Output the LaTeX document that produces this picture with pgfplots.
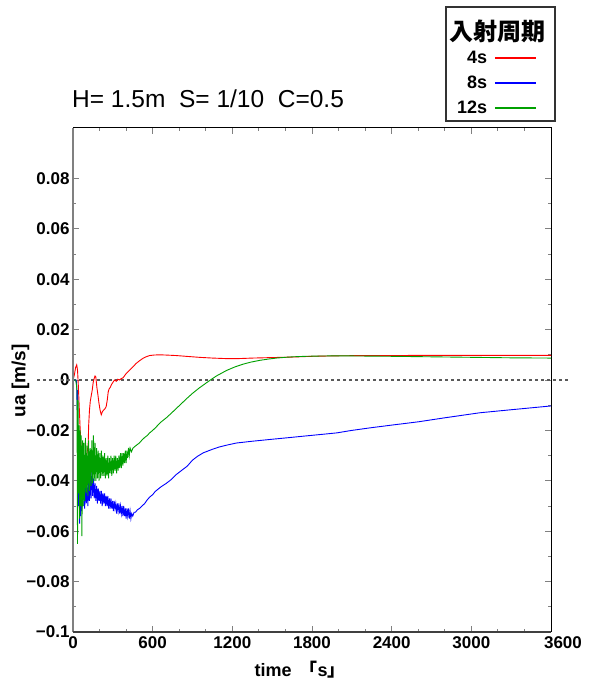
\documentclass[border=0pt]{standalone}
\usepackage{fontspec}
\setmainfont{Liberation Sans}
\newfontfamily\cjk{Noto Sans CJK JP}
\usepackage{pgfplots}
\pgfplotsset{compat=1.18}
\definecolor{cR}{RGB}{255,0,0}
\definecolor{cB}{RGB}{0,0,255}
\definecolor{cG}{RGB}{0,160,0}
\begin{document}
\begin{tikzpicture}
\useasboundingbox (0,0) rectangle (597bp,684bp);
\begin{axis}[
  at={(73bp,52bp)}, anchor=south west,
  width=478bp, height=504bp, scale only axis,
  xmin=0, xmax=3600, ymin=-0.1, ymax=0.1,
  clip=false,
  xtick={0,600,1200,1800,2400,3000,3600},
  xticklabels={0,600,1200,1800,2400,3000,\hspace*{24bp}3600},
  minor x tick num=2,
  ytick={-0.1,-0.08,-0.06,-0.04,-0.02,0,0.02,0.04,0.06,0.08},
  yticklabels={−0.1,−0.08,−0.06,−0.04,−0.02,0,0.02,0.04,0.06,0.08},
  minor y tick num=1,
  tick align=inside,
  major tick length=6bp, minor tick length=3bp,
  every tick/.style={gray, line width=0.9bp},
  axis line style={black, line width=1bp},
  ticklabel style={font=\fontsize{17bp}{20bp}\selectfont\bfseries},
  xticklabel style={yshift=-1.5bp},
  xlabel={time \,{\cjk 「}s{\cjk 」}},
  xlabel style={at={(axis description cs:0.475,-0.0885)}, anchor=base, font=\fontsize{18bp}{20bp}\selectfont\bfseries},
  ylabel={ua [m/s]},
  ylabel style={at={(axis description cs:-0.1098,0.498)}, anchor=center, rotate=0, font=\fontsize{19bp}{22bp}\selectfont\bfseries},
  title={H= 1.5m\ \ S= 1/10\ \ C=0.5},
  title style={at={(axis description cs:0,1)}, anchor=base west, xshift=-1bp, yshift=15bp, inner sep=0pt, font=\fontsize{24.5bp}{28bp}\selectfont},
  legend cell align=right,
  legend plot pos=right,
  legend image code/.code={\draw[#1, line width=1.6bp] (0bp,0bp) -- (41bp,0bp);},
  legend style={at={(0.97071,1.15327)}, anchor=north east, draw=none, fill=none,
    inner sep=0pt, row sep=11bp, column sep=7bp,
    nodes={inner sep=0pt},
    font=\fontsize{18bp}{20bp}\selectfont\bfseries},
]
\addplot[forget plot, color=gray!70!black, line width=1.1bp, dash pattern=on 3bp off 3bp] coordinates {(-270,0) (3740,0)};

% 4s
\addplot[cR, line width=0.9bp] coordinates {
(0,0) (10,0.002) (20,0.005) (28,0.006) (34,0.004) (40,-0.002) (48,-0.012) (56,-0.022) (64,-0.030) (72,-0.038) (80,-0.043) (86,-0.044) (92,-0.038) (100,-0.031) (108,-0.028) (114,-0.026) (118,-0.018) (124,-0.012) (130,-0.0085) (138,-0.006) (145,-0.004) (152,-0.001) (160,0.0007) (166,0.0016) (172,0.0012) (180,-0.003) (188,-0.006) (195,-0.009) (204,-0.012) (213,-0.0138) (222,-0.0125) (230,-0.012) (240,-0.0115) (250,-0.0105) (258,-0.008) (265,-0.0048) (272,-0.0035) (280,-0.003) (290,-0.0018) (300,-0.001) (313,0.0) (326,-0.0005) (338,0.0003) (351,0.0) (363,0.0006) (376,0.0008) (390,0.0018) (401,0.0026) (420,0.0036) (439,0.0046) (458,0.0056) (476,0.0066) (500,0.0076) (527,0.0086) (550,0.0092) (577,0.0097) (610,0.0099) (652,0.0100) (700,0.0099) (778,0.0097) (850,0.0094) (950,0.0090) (1050,0.0087) (1150,0.0085) (1250,0.0085) (1350,0.0087) (1500,0.0089) (1650,0.0091) (1800,0.0094) (2000,0.0096) (2200,0.0097) (2400,0.0097) (2700,0.0098) (3000,0.0098) (3300,0.0098) (3600,0.0098)
};
\addlegendentry{4s}

% 8s
\addplot[cB, line width=0.9bp] coordinates {
(0,0) (24,0) (28,-0.002) (31,-0.012) (34,-0.004) (38,-0.030) (42,-0.050) (46,-0.040) (50,-0.057) (54,-0.042) (58,-0.054) (62,-0.040) (66,-0.052) (70,-0.038) (76,-0.050) (82,-0.039) (88,-0.051) (94,-0.040) (100,-0.049) (106,-0.041) (112,-0.050) (118,-0.040) (124,-0.048) (130,-0.038) (136,-0.047) (142,-0.036) (148,-0.046) (154,-0.039) (160,-0.047) (166,-0.041) (172,-0.048) (178,-0.042) (184,-0.049) (190,-0.043) (196,-0.048) (202,-0.044) (208,-0.049) (214,-0.044) (220,-0.050) (226,-0.045) (232,-0.049) (238,-0.045) (244,-0.050) (250,-0.046) (256,-0.050) (262,-0.046) (268,-0.051) (274,-0.047) (280,-0.051) (286,-0.047) (292,-0.051) (298,-0.048) (304,-0.052) (310,-0.048) (316,-0.051) (322,-0.049) (328,-0.053) (334,-0.049) (340,-0.052) (346,-0.049) (352,-0.053) (358,-0.050) (364,-0.053) (370,-0.050) (376,-0.054) (382,-0.050) (388,-0.054) (394,-0.051) (400,-0.055) (406,-0.051) (412,-0.054) (418,-0.051) (424,-0.055) (430,-0.052) (436,-0.055) (442,-0.053) (450,-0.054) (460,-0.0525) (470,-0.0525) (485,-0.0515) (500,-0.051) (520,-0.050) (540,-0.049) (560,-0.0475) (577,-0.0465) (600,-0.0455) (620,-0.0442) (660,-0.0425) (703,-0.041) (740,-0.0395) (778,-0.0375) (820,-0.0358) (860,-0.0342) (900,-0.0318) (940,-0.0302) (981,-0.0289) (1050,-0.0275) (1100,-0.0266) (1170,-0.0257) (1232,-0.0250) (1350,-0.0243) (1483,-0.0236) (1600,-0.0230) (1734,-0.0223) (1850,-0.0217) (1985,-0.0210) (2100,-0.0200) (2236,-0.0190) (2400,-0.0179) (2600,-0.0166) (2800,-0.0150) (3065,-0.0130) (3300,-0.0118) (3600,-0.0103)
};
\addlegendentry{8s}

% 12s
\addplot[cG, line width=0.9bp] coordinates {
(0,0) (20,0) (26,-0.002) (30,-0.004) (34,-0.065) (38,-0.008) (42,-0.045) (46,-0.018) (50,-0.055) (54,-0.020) (58,-0.050) (62,-0.022) (67,-0.062) (72,-0.024) (77,-0.050) (82,-0.025) (88,-0.048) (94,-0.023) (100,-0.045) (106,-0.026) (112,-0.046) (118,-0.024) (124,-0.044) (130,-0.027) (136,-0.042) (142,-0.024) (148,-0.041) (154,-0.022) (160,-0.040) (166,-0.025) (172,-0.040) (178,-0.027) (184,-0.039) (190,-0.028) (196,-0.040) (202,-0.029) (208,-0.039) (214,-0.028) (220,-0.038) (226,-0.030) (232,-0.038) (238,-0.029) (244,-0.039) (250,-0.031) (256,-0.038) (262,-0.030) (268,-0.039) (274,-0.031) (280,-0.037) (286,-0.030) (292,-0.038) (298,-0.031) (304,-0.037) (310,-0.030) (316,-0.036) (322,-0.030) (328,-0.037) (334,-0.031) (340,-0.036) (346,-0.030) (352,-0.035) (358,-0.029) (364,-0.035) (370,-0.029) (376,-0.034) (382,-0.029) (388,-0.033) (394,-0.028) (400,-0.033) (406,-0.028) (412,-0.031) (418,-0.027) (424,-0.030) (430,-0.027) (440,-0.0285) (452,-0.0270) (470,-0.0262) (500,-0.0250) (520,-0.0238) (540,-0.0228) (560,-0.0220) (577,-0.0210) (600,-0.0200) (620,-0.0190) (660,-0.0168) (703,-0.0150) (740,-0.0132) (778,-0.0113) (820,-0.0092) (860,-0.0072) (900,-0.0053) (950,-0.0032) (1000,-0.0013) (1035,0.0) (1080,0.0016) (1157,0.0038) (1220,0.0052) (1282,0.0063) (1340,0.0071) (1407,0.0078) (1470,0.0083) (1532,0.0087) (1600,0.0090) (1657,0.0092) (1750,0.0094) (1850,0.0095) (2000,0.0096) (2200,0.0095) (2400,0.0094) (2700,0.0092) (3000,0.0090) (3300,0.0088) (3600,0.0087)
};
\addlegendentry{12s}

\draw[gray, line width=2bp] (rel axis cs:0,0) -- (rel axis cs:0,1);
\draw[black!75, line width=1.6bp] (rel axis cs:0,0) -- (rel axis cs:1,0);
\end{axis}
\draw[black!80, line width=1.3bp] (446bp,563bp) rectangle (555bp,677bp);
\node[font=\cjk\bfseries\fontsize{24bp}{26bp}\selectfont, inner sep=0pt] at (497.5bp,653bp) {入射周期};
\end{tikzpicture}
\end{document}
